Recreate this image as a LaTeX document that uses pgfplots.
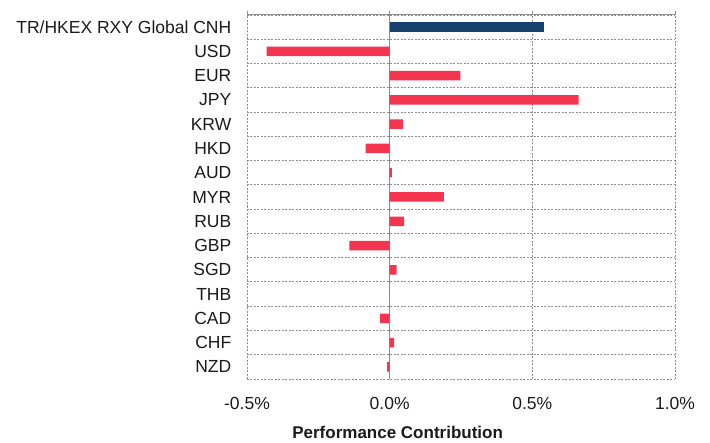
\documentclass[border=0pt]{standalone}
\usepackage{pgfplots}
\pgfplotsset{compat=1.18}
\usepackage{fontspec}
\setmainfont{Liberation Sans}
\definecolor{navy}{HTML}{17426B}
\definecolor{barred}{HTML}{F5344F}
\definecolor{gridgray}{HTML}{8F8F8F}
\definecolor{zerogray}{HTML}{8C8C8C}
\definecolor{txt}{HTML}{1A1A1A}
\begin{document}
\begin{tikzpicture}
\path[use as bounding box] (-247bp,-64bp) rectangle (463bp,379bp);
\begin{axis}[
  at={(0,0)}, anchor=south west,
  scale only axis, width=428bp, height=364bp,
  xmin=-0.5, xmax=1.0, ymin=-0.5, ymax=14.5,
  axis line style={draw=none},
  xtick={-0.5,0,0.5,1.0},
  xticklabels={-0.5\%,0.0\%,0.5\%,1.0\%},
  xtick pos=upper, xticklabel pos=lower,
  tick align=outside,
  x tick style={gridgray, line width=0.9bp},
  major tick length=3.5bp,
  xmajorgrids,
  major grid style={gridgray, dashed, dash pattern=on 2bp off 1.5bp, line width=0.9bp},
  ytick={0,...,14},
  yticklabels={NZD,CHF,CAD,THB,SGD,GBP,RUB,MYR,AUD,HKD,KRW,JPY,EUR,USD,TR/HKEX RXY Global CNH},
  y tick style={draw=none},
  minor ytick={-0.5,0.5,...,14.5},
  yminorgrids,
  minor grid style={gridgray, dashed, dash pattern=on 2bp off 1.5bp, line width=0.9bp},
  extra y ticks={14.5},
  extra y tick labels={},
  extra y tick style={grid=major, major grid style={gridgray, solid, line width=1bp}},
  extra x ticks={0},
  extra x tick labels={},
  extra x tick style={grid=major, major grid style={zerogray, solid, line width=1.2bp}},
  ticklabel style={font=\fontsize{17.5bp}{20bp}\selectfont, text=txt},
  yticklabel style={anchor=east, inner sep=0pt, xshift=-12bp},
  xticklabel style={anchor=north, inner sep=0pt, yshift=-15bp},
  xlabel={Performance Contribution},
  xlabel style={font=\bfseries\fontsize{17bp}{20bp}\selectfont, text=txt, at={(axis description cs:0.352,-0.1456)}, anchor=center},
  xbar, bar width=9.5bp, bar shift=0pt,
  clip=false,
]
\addplot[fill=navy, draw=none] coordinates {(0.542,14)};
\addplot[fill=barred, draw=none] coordinates {
 (-0.431,13) (0.248,12) (0.662,11) (0.047,10) (-0.084,9) (0.008,8)
 (0.19,7) (0.051,6) (-0.141,5) (0.024,4) (0.0,3) (-0.033,2) (0.016,1) (-0.009,0)};
\end{axis}
\end{tikzpicture}
\end{document}
